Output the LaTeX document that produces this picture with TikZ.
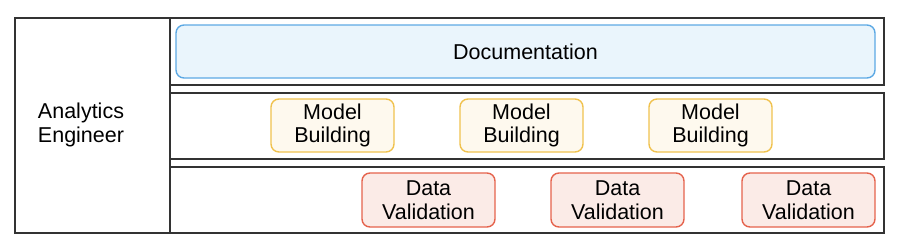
\documentclass[tikz,border=0pt]{standalone}
\usepackage{fontspec}
\setmainfont{Liberation Sans}
\definecolor{laneline}{HTML}{333333}
\definecolor{docfill}{HTML}{EAF5FC}
\definecolor{docline}{HTML}{5DA9E4}
\definecolor{modfill}{HTML}{FEF9EE}
\definecolor{modline}{HTML}{F0C24F}
\definecolor{valfill}{HTML}{FBEBE7}
\definecolor{valline}{HTML}{E5634D}

\begin{document}
\begin{tikzpicture}[x=1pt, y=-1pt,
        lane/.style={draw=laneline, line width=1.6pt},
        task/.style={rounded corners=8pt, line width=1.4pt, align=center,
            font=\fontsize{21.5}{23.5}\selectfont, inner sep=0pt},
        docbox/.style={task, draw=docline, fill=docfill, minimum width=699pt, minimum height=53pt},
        modbox/.style={task, draw=modline, fill=modfill, minimum width=123pt, minimum height=53pt},
        valbox/.style={task, draw=valline, fill=valfill, minimum width=133pt, minimum height=54pt}]
        \useasboundingbox (0,0) rectangle (908,250);
        % role column and lanes
        \draw[lane] (15,18) rectangle (170,233);
        \draw[lane] (170,18) rectangle (884,85);
        \draw[lane] (170,93) rectangle (884,159);
        \draw[lane] (170,167) rectangle (884,233);
        \node[align=center, font=\fontsize{21.5}{24}\selectfont] (role) at (81,125) {Analytics\\Engineer};
        % tasks
        \node[docbox] (doc) at (525.5,51.5) {Documentation};
        \node[modbox] (mod1) at (332.5,125.5) {Model\\Building};
        \node[modbox] (mod2) at (521.5,125.5) {Model\\Building};
        \node[modbox] (mod3) at (710.5,125.5) {Model\\Building};
        \node[valbox] (val1) at (428.5,200) {Data\\Validation};
        \node[valbox] (val2) at (617.5,200) {Data\\Validation};
        \node[valbox] (val3) at (808.5,200) {Data\\Validation};
    \end{tikzpicture}
\end{document}
